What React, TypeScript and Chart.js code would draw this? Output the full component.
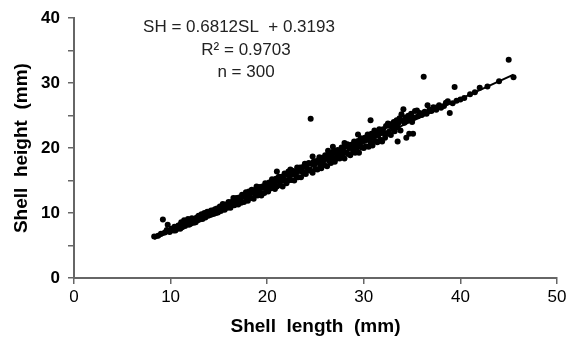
import React, { useEffect, useRef } from "react";
import { Chart, registerables } from "chart.js";

Chart.register(...registerables);

// Shell length (mm) and shell height (mm)
const shellLength: number[] = [
  8.3, 8.7, 9.0, 9.2, 9.4, 9.6, 9.7, 9.9, 10.1, 10.3,
  10.4, 10.5, 10.7, 10.8, 11.0, 11.0, 11.1, 11.2, 11.3, 11.4, 11.5, 11.6, 11.7, 11.8, 11.9, 12.0, 12.0, 12.1, 12.2, 12.3, 12.4,
  12.5, 12.6, 12.7, 12.8, 12.9, 13.0, 13.1, 13.2, 13.3, 13.4, 13.5, 13.6, 13.7, 13.8, 13.9, 14.0, 14.1, 14.2, 14.3, 14.4, 14.5, 14.6, 14.7, 14.8, 14.9, 15.0,
  15.1, 15.2, 15.3, 15.4, 15.5, 15.6, 15.7, 15.8, 15.9, 16.0, 16.1, 16.2, 16.3, 16.4, 16.5, 16.6, 16.7, 16.8, 16.9, 17.0, 17.1, 17.2, 17.3, 17.4,
  17.5, 17.6, 17.7, 17.8, 17.9, 18.0, 18.1, 18.2, 18.3, 18.4, 18.5, 18.6, 18.7, 18.8, 18.9, 19.0, 19.1, 19.2, 19.3, 19.4, 19.5, 19.6, 19.7, 19.8, 19.9, 20.0,
  20.1, 20.2, 20.3, 20.4, 20.5, 20.6, 20.7, 20.8, 20.9, 21.0, 21.0, 21.1, 21.2, 21.3, 21.4, 21.5, 21.6, 21.7, 21.8, 21.9, 22.0, 22.1, 22.2, 22.3, 22.4, 22.4,
  22.5, 22.6, 22.7, 22.8, 22.9, 23.0, 23.1, 23.2, 23.3, 23.4, 23.5, 23.6, 23.7, 23.8, 23.9, 24.0, 24.1, 24.2, 24.3, 24.5, 24.5, 24.6, 24.7, 24.7, 24.8, 24.9, 25.0,
  25.1, 25.2, 25.3, 25.4, 25.5, 25.6, 25.7, 25.8, 25.9, 26.0, 26.1, 26.2, 26.3, 26.3, 26.4, 26.5, 26.6, 26.7, 26.8, 26.8, 26.9, 27.0, 27.1, 27.2, 27.3, 27.4,
  27.5, 27.6, 27.7, 27.8, 27.9, 28.0, 28.0, 28.1, 28.2, 28.3, 28.4, 28.5, 28.6, 28.7, 28.8, 28.9, 29.0, 29.1, 29.2, 29.3, 29.4, 29.4, 29.5, 29.6, 29.7, 29.8, 29.9, 30.0,
  30.1, 30.2, 30.3, 30.4, 30.5, 30.6, 30.7, 30.7, 30.8, 30.9, 31.0, 31.1, 31.2, 31.3, 31.4, 31.5, 31.6, 31.7, 31.8, 31.9, 32.0, 32.1, 32.2, 32.3, 32.4,
  32.5, 32.6, 32.7, 32.8, 32.9, 33.0, 33.1, 33.2, 33.3, 33.4, 33.5, 33.5, 33.6, 33.7, 33.8, 33.9, 34.0, 34.1, 34.2, 34.3, 34.4, 34.5, 34.6, 34.7, 34.8, 34.9, 35.0,
  35.1, 35.2, 35.3, 35.5, 35.6, 35.8, 36.0, 36.2, 36.3, 36.5, 36.6, 36.8, 37.0, 37.2, 37.5, 37.6, 37.8, 38.0, 38.3, 38.5, 38.7, 38.9, 39.2, 39.4, 39.6, 40.0,
  40.4, 41.0, 41.5, 42.0, 42.8, 44.0, 45.0, 45.5,
];

const shellHeight: number[] = [
  6.4, 6.5, 6.8, 9.0, 7.0, 7.4, 8.2, 7.1, 7.6, 7.3,
  7.9, 7.3, 7.6, 8.1, 7.6, 8.2, 8.6, 7.8, 8.3, 8.9, 8.0, 8.6, 8.4, 9.1, 8.2, 8.8, 8.3, 8.4, 9.2, 8.8, 8.5,
  9.1, 8.6, 9.3, 8.9, 9.6, 9.0, 9.5, 9.8, 9.1, 9.7, 10.0, 9.3, 9.8, 10.2, 9.6, 10.2, 9.7, 10.4, 9.8, 10.4, 9.9, 10.6, 10.0, 10.7, 10.1, 10.5,
  11.0, 10.3, 10.8, 11.4, 10.6, 10.5, 11.3, 11.1, 10.8, 11.7, 11.5, 10.8, 11.7, 11.4, 12.3, 11.2, 11.8, 12.3, 11.5, 11.3, 12.4, 12.0, 11.6, 12.8,
  12.7, 11.7, 12.6, 13.2, 12.2, 11.9, 13.3, 12.7, 12.3, 13.6, 13.2, 12.2, 13.5, 12.9, 14.1, 12.7, 13.4, 14.0, 13.1, 12.7, 14.1, 13.9, 13.1, 14.6, 13.8, 14.3,
  13.3, 14.7, 14.3, 13.8, 15.2, 14.2, 14.8, 13.7, 15.3, 16.4, 14.1, 15.0, 15.6, 14.3, 14.9, 15.6, 14.1, 15.3, 16.1, 14.9, 14.6, 15.9, 16.4, 15.1, 16.7, 15.9,
  15.1, 16.5, 16.0, 15.0, 16.4, 15.7, 17.0, 15.5, 16.5, 17.0, 15.5, 16.4, 17.1, 16.1, 17.6, 16.0, 17.1, 16.6, 17.7, 24.5, 16.5, 17.6, 18.7, 16.2, 17.9, 17.5, 16.8,
  18.0, 16.7, 17.9, 18.6, 17.3, 16.9, 18.5, 18.0, 17.4, 18.9, 18.5, 17.2, 19.6, 18.5, 18.0, 19.2, 17.7, 19.0, 20.2, 18.4, 19.6, 17.9, 19.2, 18.4, 19.7, 18.9,
  18.4, 19.6, 20.1, 18.9, 19.5, 20.8, 18.4, 20.2, 19.3, 20.6, 19.1, 20.0, 18.9, 20.5, 20.0, 19.5, 21.0, 19.3, 20.6, 20.0, 22.1, 21.1, 19.3, 20.7, 21.5, 20.1, 21.1, 20.0,
  21.6, 20.3, 21.3, 22.1, 20.2, 21.7, 24.3, 20.9, 22.2, 20.4, 21.8, 22.7, 21.1, 22.3, 20.9, 22.0, 22.9, 21.3, 22.5, 21.0, 22.9, 22.3, 21.6, 23.4, 22.2,
  23.8, 22.5, 23.4, 22.0, 23.7, 23.1, 24.0, 22.6, 23.5, 24.3, 21.0, 23.2, 23.9, 24.6, 22.7, 25.2, 24.2, 26.0, 23.9, 24.7, 21.6, 24.3, 25.0, 22.2, 24.5, 25.3, 24.0,
  22.2, 24.7, 25.7, 25.8, 24.9, 25.4, 25.1, 31.0, 25.6, 25.3, 26.6, 25.9, 25.7, 26.3, 25.9, 26.3, 26.6, 26.2, 26.5, 27.0, 27.2, 25.4, 26.9, 29.4, 27.3, 27.5,
  27.7, 28.3, 28.6, 29.3, 29.5, 30.3, 33.6, 30.9,
];

// Linear regression shown on the chart
const slope = 0.6812;
const intercept = 0.3193;
const equationLines: string[] = ["SH = 0.6812SL  + 0.3193", "R\u00B2 = 0.9703", "n = 300"];

const xTitle = "Shell  length  (mm)";
const yTitle = "Shell  height  (mm)";

const FONT = "'Liberation Sans', Arial, sans-serif";

export default function App() {
  const ref = useRef<HTMLCanvasElement | null>(null);

  useEffect(() => {
    if (!ref.current) return;
    const points = shellLength.map((x, i) => ({ x, y: shellHeight[i] }));
    const xMin = Math.min(...shellLength);
    const xMax = Math.max(...shellLength);
    const trend = [
      { x: xMin, y: slope * xMin + intercept },
      { x: xMax, y: slope * xMax + intercept },
    ];

    const textPlugin = {
      id: "equationText",
      afterDraw(chart: any) {
        const ctx = chart.ctx;
        ctx.save();
        ctx.fillStyle = "#222";
        ctx.font = `17px ${FONT}`;
        ctx.textAlign = "center";
        ctx.textBaseline = "middle";
        const centers = [239, 246, 246];
        const ys = [27, 50, 72];
        equationLines.forEach((t, i) => ctx.fillText(t, centers[i], ys[i]));
        ctx.restore();
      },
    };

    const chart = new Chart(ref.current, {
      type: "scatter",
      data: {
        datasets: [
          {
            data: points,
            backgroundColor: "#000",
            borderColor: "#000",
            pointRadius: 3,
            pointBorderWidth: 0,
          },
          {
            type: "line",
            data: trend,
            borderColor: "#000",
            borderWidth: 2,
            pointRadius: 0,
            showLine: true,
            fill: false,
          } as any,
        ],
      },
      options: {
        animation: false,
        responsive: false,
        layout: { padding: { left: 0, right: 22, top: 14, bottom: 0 } },
        plugins: { legend: { display: false }, tooltip: { enabled: false } },
        scales: {
          x: {
            type: "linear",
            min: 0,
            max: 50,
            afterFit: (s: any) => {
              s.height = 62;
            },
            ticks: {
              stepSize: 10,
              color: "#000",
              padding: 3,
              font: { family: FONT, size: 17 },
            },
            grid: {
              drawOnChartArea: false,
              drawTicks: true,
              tickLength: 6,
              color: "#666",
              lineWidth: 1.5,
            },
            border: { display: true, color: "#666", width: 2 },
            title: {
              display: true,
              text: xTitle,
              color: "#000",
              font: { family: FONT, size: 19, weight: "bold" },
              padding: { top: 0, bottom: 2 },
            },
          },
          y: {
            type: "linear",
            min: 0,
            max: 40,
            afterFit: (s: any) => {
              s.width = 74;
            },
            ticks: {
              stepSize: 5,
              color: "#000",
              padding: 8,
              font: { family: FONT, size: 17, weight: "bold" },
              callback: (v: any) => (Number(v) % 10 === 0 ? String(v) : ""),
            },
            grid: {
              drawOnChartArea: false,
              drawTicks: true,
              tickLength: 6,
              color: "#666",
              lineWidth: 1.5,
            },
            border: { display: true, color: "#666", width: 2 },
            title: {
              display: true,
              text: yTitle,
              color: "#000",
              font: { family: FONT, size: 19, weight: "bold" },
              padding: { top: 10, bottom: 0 },
            },
          },
        },
      },
      plugins: [textPlugin],
    });
    return () => chart.destroy();
  }, []);

  return (
    <div style={{ position: "fixed", left: 0, top: 0, width: 579, height: 340, background: "#fff" }}>
      <canvas ref={ref} width={579} height={340} style={{ display: "block" }} />
    </div>
  );
}
